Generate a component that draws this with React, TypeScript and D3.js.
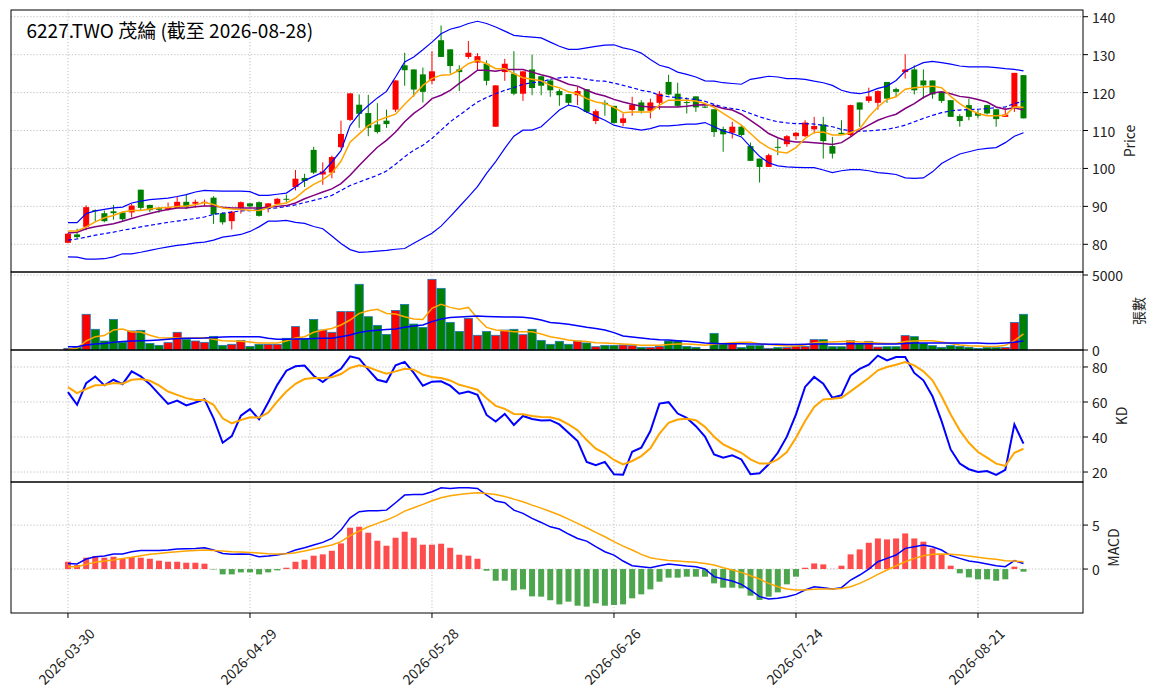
import * as d3 from 'd3';

// ---- values (106 trading days) ----
const tickIndex = [0, 20, 40, 60, 80, 100];
const tickLabels = ['2026-03-30', '2026-04-29', '2026-05-28', '2026-06-26', '2026-07-24', '2026-08-21'];

const opens = [
  80.4, 82.6, 84.6, 89.0, 88.2, 88.7, 88.4, 88.4, 94.4, 90.4,
  89.6, 89.2, 89.6, 91.2, 90.7, 91.0, 92.3, 88.2, 86.1, 89.6,
  90.8, 91.1, 89.6, 90.6, 92.0, 95.1, 97.5, 104.9, 98.4, 98.9,
  105.6, 112.8, 116.8, 114.6, 111.6, 112.6, 115.5, 127.2, 126.1, 124.8,
  123.1, 133.8, 131.4, 126.1, 129.4, 127.9, 127.6, 111.0, 125.4, 125.0,
  119.7, 126.1, 124.3, 123.2, 120.4, 119.6, 119.3, 120.9, 112.5, 117.3,
  116.5, 112.0, 115.4, 117.4, 115.2, 117.3, 122.8, 119.7, 117.5, 119.0,
  116.3, 115.6, 110.4, 109.4, 111.0, 105.9, 102.6, 100.4, 105.7, 106.4,
  108.5, 108.5, 110.3, 111.6, 105.9, 109.4, 108.8, 117.4, 117.8, 117.3,
  122.8, 120.9, 125.4, 126.1, 123.2, 123.2, 120.2, 118.0, 113.8, 116.7,
  114.6, 116.7, 115.6, 113.6, 116.2, 124.6,
];
const highs = [
  83.0, 84.1, 90.3, 89.2, 88.9, 90.4, 88.7, 90.7, 94.4, 90.4,
  89.8, 91.0, 92.7, 93.1, 91.8, 91.8, 92.7, 88.4, 88.8, 91.3,
  90.8, 91.3, 90.8, 92.2, 93.1, 99.6, 98.6, 105.7, 101.6, 103.4,
  112.6, 119.8, 119.5, 119.4, 117.2, 115.5, 123.2, 130.5, 126.1, 126.6,
  130.9, 137.7, 131.4, 127.2, 133.6, 130.4, 128.5, 121.9, 128.9, 130.9,
  125.6, 130.0, 124.3, 123.7, 120.9, 119.6, 121.5, 120.9, 115.6, 118.0,
  116.5, 114.5, 118.9, 118.0, 118.4, 120.4, 124.7, 122.6, 118.7, 119.0,
  116.5, 115.6, 111.0, 112.3, 111.4, 106.8, 102.6, 103.9, 107.9, 108.8,
  109.6, 112.7, 113.6, 113.6, 108.3, 112.7, 116.8, 117.4, 121.3, 120.6,
  122.8, 121.3, 130.1, 127.2, 126.1, 123.2, 120.2, 118.0, 114.3, 118.4,
  115.4, 116.8, 115.6, 116.0, 125.2, 124.6,
];
const lows = [
  80.3, 81.4, 83.7, 85.9, 85.8, 86.5, 86.2, 87.1, 89.0, 88.5,
  88.3, 88.9, 89.5, 89.3, 89.7, 90.0, 85.4, 85.2, 83.9, 88.1,
  89.6, 87.3, 88.4, 90.4, 91.2, 94.2, 95.1, 98.5, 95.7, 97.4,
  105.2, 112.5, 110.7, 108.5, 109.2, 110.7, 114.9, 121.8, 118.9, 117.4,
  122.2, 129.4, 125.0, 120.4, 128.9, 125.9, 121.9, 111.0, 123.1, 119.3,
  117.8, 119.3, 119.3, 118.9, 116.5, 116.7, 116.7, 114.6, 111.7, 113.9,
  111.8, 111.1, 113.9, 114.5, 113.2, 115.5, 119.3, 116.2, 114.5, 114.9,
  115.9, 108.3, 104.4, 107.9, 108.5, 102.0, 96.3, 100.4, 103.5, 105.7,
  107.5, 108.3, 109.2, 102.6, 102.6, 109.0, 108.5, 111.0, 117.3, 115.5,
  117.3, 118.9, 123.7, 119.5, 118.4, 118.4, 117.3, 113.6, 111.0, 112.7,
  113.2, 114.2, 111.0, 113.6, 114.9, 113.2,
];
const closes = [
  82.8, 81.9, 89.8, 88.7, 86.1, 88.2, 86.6, 90.2, 89.6, 89.0,
  89.1, 89.8, 91.2, 89.9, 91.2, 91.2, 87.9, 85.8, 88.6, 91.1,
  90.0, 87.5, 90.8, 92.0, 91.8, 97.3, 96.7, 98.9, 99.2, 103.0,
  109.1, 119.8, 114.4, 110.7, 109.6, 111.7, 123.2, 125.9, 120.8, 120.2,
  125.6, 129.4, 127.0, 125.4, 130.5, 129.6, 123.1, 121.9, 127.6, 119.7,
  125.6, 121.2, 121.8, 120.6, 119.3, 117.3, 120.4, 114.9, 115.1, 116.9,
  112.0, 113.2, 116.8, 115.2, 117.4, 119.7, 119.5, 116.5, 117.3, 116.1,
  116.1, 109.6, 109.0, 111.0, 108.8, 102.0, 100.4, 103.5, 105.5, 108.5,
  109.4, 112.1, 111.2, 107.2, 103.9, 109.0, 116.7, 115.5, 119.0, 120.4,
  118.4, 120.2, 126.1, 120.6, 121.9, 119.5, 117.8, 113.6, 112.5, 113.6,
  113.9, 114.5, 113.0, 114.2, 125.2, 113.2,
];

const ma5 = [
  83.5, 83.5, 84.6, 85.9, 87.0, 87.6, 88.5, 88.9, 88.9, 89.3,
  89.6, 89.7, 90.0, 90.1, 90.4, 91.0, 90.5, 89.6, 89.3, 89.2,
  89.0, 88.9, 89.6, 90.5, 90.9, 92.2, 94.2, 95.8, 97.0, 98.8,
  101.9, 106.9, 109.1, 111.3, 112.6, 113.5, 114.3, 116.9, 119.3, 121.9,
  123.7, 124.6, 124.7, 125.9, 127.6, 128.5, 127.6, 126.3, 126.3, 125.0,
  123.9, 123.5, 123.1, 121.9, 121.3, 120.2, 119.7, 118.4, 117.5, 117.1,
  116.1, 114.7, 114.9, 114.9, 114.9, 116.7, 118.0, 118.0, 118.0, 117.8,
  117.1, 116.1, 114.5, 113.0, 111.4, 109.2, 107.0, 105.5, 104.4, 104.1,
  105.5, 107.9, 109.5, 109.6, 108.8, 108.8, 109.4, 110.5, 113.6, 116.2,
  118.2, 118.9, 120.9, 121.3, 121.5, 121.7, 121.3, 119.0, 117.1, 115.6,
  114.5, 113.9, 113.9, 114.0, 116.2, 116.1,
];
const ma10 = [
  83.0, 83.2, 84.1, 84.6, 85.0, 85.4, 86.1, 86.8, 87.5, 88.1,
  88.7, 89.2, 89.6, 89.6, 89.9, 90.1, 90.1, 89.8, 89.6, 89.6,
  89.6, 89.6, 89.8, 90.0, 90.2, 90.9, 92.0, 92.9, 93.8, 94.6,
  96.0, 98.2, 100.8, 103.2, 105.6, 107.4, 109.6, 112.3, 114.5, 116.2,
  118.4, 119.3, 120.6, 122.4, 124.1, 125.9, 125.9, 125.6, 126.1, 126.1,
  126.1, 125.4, 124.7, 124.1, 123.2, 122.2, 121.7, 120.6, 119.7, 119.1,
  118.2, 117.5, 116.9, 116.4, 116.2, 116.2, 116.2, 116.2, 116.4, 116.7,
  116.8, 116.5, 115.8, 115.4, 114.3, 112.7, 111.0, 109.2, 108.1, 107.3,
  107.0, 107.0, 106.8, 106.6, 106.3, 106.8, 108.3, 110.1, 111.4, 112.7,
  113.6, 114.3, 115.8, 117.1, 118.7, 119.9, 120.2, 119.7, 119.0, 118.7,
  118.2, 117.5, 116.2, 115.6, 116.0, 115.4,
];
const ma20 = [
  81.1, 81.4, 81.9, 82.4, 82.8, 83.2, 83.7, 84.1, 84.6, 85.0,
  85.4, 85.8, 86.1, 86.5, 86.8, 87.2, 87.9, 88.2, 88.5, 88.8,
  88.9, 89.2, 89.4, 89.6, 90.0, 90.4, 91.0, 91.6, 92.2, 92.9,
  94.2, 95.5, 96.4, 97.3, 98.2, 99.3, 101.1, 103.1, 104.8, 106.1,
  107.9, 110.1, 112.3, 114.0, 115.8, 117.5, 118.7, 119.7, 120.6, 121.3,
  122.2, 122.6, 122.8, 123.5, 123.9, 124.1, 123.9, 123.5, 123.1, 123.0,
  122.5, 121.9, 121.3, 120.6, 120.2, 119.3, 118.9, 118.7, 118.4, 118.2,
  117.7, 116.9, 116.2, 115.8, 115.4, 114.5, 113.6, 112.9, 112.3, 112.0,
  111.8, 111.8, 111.7, 111.4, 111.0, 110.3, 109.9, 109.8, 109.9, 110.1,
  110.3, 110.8, 111.4, 112.3, 113.2, 114.0, 114.7, 115.2, 115.4, 115.5,
  115.6, 115.8, 116.0, 116.2, 117.1, 117.7,
];
const bbUpper = [
  85.7, 85.7, 88.1, 88.8, 89.2, 89.6, 89.8, 90.9, 91.4, 91.8,
  92.0, 92.2, 92.6, 93.1, 93.8, 94.2, 94.1, 94.0, 94.0, 94.0,
  93.9, 92.9, 92.9, 93.2, 93.5, 95.1, 96.8, 97.9, 99.0, 101.7,
  104.7, 111.3, 114.4, 116.6, 118.6, 120.3, 124.1, 128.1, 129.4, 131.3,
  133.3, 135.5, 136.7, 137.3, 138.2, 138.8, 138.2, 137.3, 136.2, 135.1,
  134.8, 134.6, 134.4, 133.3, 132.2, 131.4, 131.4, 131.8, 132.2, 132.5,
  132.6, 131.8, 131.3, 130.4, 128.7, 127.2, 126.6, 125.4, 124.8, 124.1,
  123.1, 123.0, 122.6, 122.4, 122.2, 123.5, 123.9, 124.3, 124.1, 123.7,
  123.7, 123.5, 123.0, 122.6, 121.9, 120.6, 120.0, 119.7, 120.2, 121.1,
  121.7, 123.2, 125.6, 126.8, 127.9, 128.2, 127.9, 127.5, 127.0, 126.8,
  126.8, 126.8, 126.6, 126.3, 126.1, 125.7,
];
const bbLower = [
  76.7, 76.6, 76.1, 76.1, 76.2, 76.7, 77.5, 77.5, 77.9, 78.4,
  78.9, 79.3, 79.7, 80.0, 80.4, 80.6, 81.1, 81.9, 82.2, 82.6,
  83.4, 84.6, 86.1, 86.1, 86.3, 85.8, 85.5, 84.7, 84.1, 82.2,
  80.2, 78.6, 77.9, 78.0, 78.2, 78.4, 78.7, 78.9, 80.3, 81.6,
  82.9, 84.8, 87.3, 89.9, 92.5, 95.2, 98.7, 101.8, 105.3, 108.5,
  110.1, 110.1, 111.0, 113.2, 115.4, 116.7, 116.2, 114.9, 113.8, 112.7,
  111.4, 110.8, 110.5, 110.1, 110.5, 111.2, 111.2, 111.4, 111.7, 111.7,
  112.1, 111.0, 109.9, 109.2, 108.3, 105.7, 103.2, 101.5, 100.7, 100.4,
  100.3, 100.2, 100.2, 99.6, 98.9, 99.4, 99.7, 99.7, 99.4, 98.9,
  98.7, 98.4, 97.5, 97.4, 97.5, 99.1, 101.3, 102.6, 103.8, 104.4,
  105.0, 105.3, 105.5, 106.8, 108.5, 109.4,
];

const volumes = [
  110, 180, 2380, 1380, 600, 2040, 510, 1270, 1310, 440,
  310, 490, 1180, 710, 600, 510, 910, 310, 380, 640,
  240, 380, 380, 380, 780, 1560, 780, 2040, 1330, 1180,
  2560, 2560, 4380, 2220, 1640, 1040, 2640, 3040, 1730, 1510,
  4710, 4110, 1840, 1240, 2110, 980, 1240, 980, 1330, 1380,
  1020, 1380, 640, 380, 580, 380, 600, 470, 220, 310,
  310, 330, 290, 180, 180, 240, 600, 600, 240, 180,
  40, 1110, 400, 440, 160, 290, 290, 110, 160, 160,
  240, 240, 690, 690, 220, 220, 620, 400, 580, 200,
  220, 220, 960, 890, 440, 290, 180, 290, 240, 180,
  110, 160, 160, 160, 1840, 2380,
];
const volMa5 = [
  40, 110, 600, 890, 960, 1330, 1400, 1200, 1200, 980,
  820, 800, 820, 780, 800, 820, 710, 620, 600, 580,
  530, 470, 470, 470, 600, 800, 890, 1180, 1330, 1440,
  1670, 2000, 2440, 2620, 2710, 2440, 2400, 2220, 2070, 2040,
  2780, 3040, 2840, 2710, 2840, 2110, 1510, 1330, 1290, 1220,
  1220, 1220, 1070, 890, 780, 670, 600, 560, 490, 470,
  440, 400, 360, 310, 310, 310, 360, 400, 400, 360,
  310, 380, 440, 490, 510, 510, 400, 360, 310, 270,
  270, 330, 490, 530, 530, 560, 580, 530, 510, 470,
  440, 440, 560, 600, 620, 620, 530, 440, 330, 290,
  270, 240, 240, 310, 620, 1070,
];
const volMa20 = [
  220, 220, 330, 400, 440, 510, 560, 600, 620, 640,
  670, 710, 760, 780, 780, 800, 840, 870, 890, 890,
  890, 890, 780, 710, 710, 730, 730, 760, 780, 780,
  890, 1000, 1160, 1270, 1310, 1360, 1400, 1510, 1600, 1670,
  1890, 2070, 2160, 2200, 2240, 2270, 2240, 2220, 2200, 2200,
  2180, 2110, 2000, 1840, 1780, 1710, 1620, 1510, 1440, 1330,
  1160, 930, 870, 800, 730, 690, 670, 620, 580, 530,
  470, 440, 420, 420, 420, 400, 400, 380, 380, 360,
  360, 380, 400, 400, 400, 400, 420, 420, 420, 400,
  400, 400, 440, 470, 470, 470, 470, 470, 470, 470,
  470, 440, 440, 470, 510, 600,
];

const kLine = [
  65.6, 58.4, 70.8, 74.6, 69.5, 72.7, 70.2, 77.5, 74.6, 70.2,
  64.5, 58.9, 60.8, 58.0, 59.7, 61.6, 50.7, 36.7, 40.5, 52.2,
  55.9, 50.1, 59.7, 69.8, 77.9, 80.4, 80.8, 75.0, 71.4, 75.6,
  79.0, 86.1, 84.8, 78.5, 72.7, 71.4, 81.0, 82.9, 76.6, 69.3,
  71.6, 71.8, 69.3, 64.7, 66.0, 64.1, 52.6, 48.8, 53.2, 46.9,
  52.0, 50.3, 49.5, 49.6, 47.2, 42.4, 37.7, 25.8, 23.9, 25.8,
  18.7, 18.4, 31.6, 33.9, 43.4, 59.1, 59.9, 53.4, 50.9, 46.2,
  40.2, 30.1, 28.2, 29.5, 27.2, 18.7, 19.3, 24.4, 31.0, 40.2,
  52.9, 68.6, 74.3, 70.5, 62.4, 63.9, 75.1, 78.9, 81.3, 86.5,
  83.8, 85.7, 85.7, 76.6, 72.4, 63.3, 49.1, 32.9, 24.8, 21.6,
  20.0, 20.6, 18.3, 21.2, 47.2, 36.2,
];
const dLine = [
  68.5, 65.1, 67.4, 69.5, 69.7, 70.8, 70.4, 72.7, 73.1, 72.1,
  69.5, 66.0, 64.1, 62.2, 61.2, 61.2, 58.4, 50.7, 47.8, 49.7,
  51.3, 51.1, 53.9, 60.3, 66.0, 70.4, 73.1, 73.7, 73.7, 74.1,
  76.0, 79.4, 81.0, 79.8, 77.9, 76.2, 77.5, 79.0, 78.5, 75.6,
  74.3, 73.7, 72.3, 69.8, 68.5, 67.0, 62.2, 57.8, 56.1, 53.2,
  53.0, 52.0, 51.4, 51.3, 50.0, 47.2, 43.9, 38.3, 33.3, 30.7,
  26.9, 24.4, 26.3, 29.1, 33.5, 41.9, 48.1, 50.0, 50.4, 49.6,
  45.8, 40.2, 35.8, 33.3, 31.0, 27.2, 24.8, 24.8, 27.2, 31.4,
  39.6, 49.1, 57.2, 61.4, 61.8, 62.4, 66.1, 69.9, 73.7, 78.1,
  80.0, 81.3, 82.8, 80.9, 77.5, 72.4, 63.3, 52.9, 43.8, 36.7,
  31.4, 28.2, 24.8, 23.5, 31.0, 33.3,
];

const macdHist = [
  0.83, 0.45, 1.29, 1.48, 1.29, 1.40, 1.14, 1.36, 1.29, 1.17,
  0.95, 0.83, 0.83, 0.72, 0.72, 0.61, -0.05, -0.61, -0.61, -0.38,
  -0.38, -0.61, -0.38, -0.15, 0.15, 0.83, 1.06, 1.52, 1.67, 2.08,
  2.92, 4.70, 4.81, 4.13, 3.22, 2.65, 3.56, 4.24, 3.56, 2.77,
  2.77, 2.88, 2.42, 1.63, 1.52, 1.17, -0.19, -1.33, -1.33, -2.42,
  -2.31, -3.11, -3.14, -3.55, -4.02, -3.71, -4.17, -4.28, -3.90, -4.17,
  -4.09, -4.02, -3.33, -2.88, -2.31, -1.44, -0.98, -0.98, -0.87, -0.87,
  -0.87, -1.63, -2.12, -2.12, -2.20, -3.03, -3.52, -3.14, -2.65, -1.74,
  -0.87, 0.15, 0.64, 0.53, 0.02, 0.38, 1.67, 2.23, 2.99, 3.48,
  3.37, 3.48, 4.05, 3.48, 3.11, 2.35, 1.67, 0.38, -0.49, -0.95,
  -1.17, -1.17, -1.33, -1.17, 0.27, -0.30,
];
const dif = [
  0.64, 0.57, 1.14, 1.40, 1.48, 1.70, 1.70, 1.97, 2.12, 2.12,
  2.12, 2.16, 2.27, 2.31, 2.35, 2.42, 2.16, 1.78, 1.67, 1.70,
  1.67, 1.40, 1.48, 1.59, 1.78, 2.16, 2.42, 2.73, 3.03, 3.48,
  4.43, 5.83, 6.52, 6.63, 6.63, 6.70, 7.54, 8.41, 8.48, 8.48,
  8.79, 9.24, 9.17, 9.24, 9.24, 9.17, 8.41, 7.73, 7.54, 6.70,
  6.33, 5.76, 5.30, 4.80, 4.55, 3.98, 3.48, 3.18, 2.54, 1.97,
  1.59, 0.91, 0.38, 0.27, 0.15, 0.38, 0.57, 0.45, 0.34, 0.27,
  0.00, -0.87, -1.14, -1.36, -1.74, -2.39, -3.14, -3.41, -3.33, -3.14,
  -2.88, -2.39, -2.01, -2.12, -2.27, -2.12, -1.25, -0.68, 0.00, 0.83,
  1.21, 1.59, 2.35, 2.54, 2.73, 2.54, 2.16, 1.52, 1.21, 0.91,
  0.76, 0.57, 0.38, 0.27, 0.95, 0.64,
];
const dea = [
  0.27, 0.27, 0.53, 0.76, 0.91, 1.02, 1.21, 1.33, 1.52, 1.67,
  1.78, 1.89, 1.97, 2.05, 2.12, 2.16, 2.12, 2.05, 1.97, 1.93,
  1.89, 1.82, 1.74, 1.70, 1.74, 1.86, 2.05, 2.27, 2.50, 2.73,
  3.11, 3.79, 4.32, 4.81, 5.19, 5.57, 6.02, 6.59, 6.97, 7.35,
  7.77, 8.11, 8.33, 8.48, 8.60, 8.67, 8.60, 8.48, 8.26, 7.95,
  7.65, 7.27, 6.93, 6.55, 6.14, 5.68, 5.19, 4.70, 4.17, 3.67,
  3.11, 2.61, 2.16, 1.67, 1.29, 1.10, 0.98, 0.91, 0.83, 0.76,
  0.64, 0.45, 0.15, -0.11, -0.38, -0.76, -1.14, -1.63, -2.01, -2.27,
  -2.39, -2.39, -2.31, -2.27, -2.27, -2.20, -2.01, -1.63, -1.14, -0.61,
  -0.11, 0.38, 0.83, 1.21, 1.52, 1.67, 1.70, 1.67, 1.59, 1.48,
  1.33, 1.21, 1.10, 0.95, 0.91, 0.83,
];

const priceTicks = [80, 90, 100, 110, 120, 130, 140];
const volTicks = [0, 5000];
const kdTicks = [20, 40, 60, 80];
const macdTicks = [0, 5];

const W = 1155;
const H = 698;
const LEFT = 11;
const RIGHT = 1083;
const FONT = "'Noto Sans CJK TC', 'Noto Sans', sans-serif";
const UP = 'red';
const DOWN = 'green';
const GRID = '#b0b0b0';

const x = d3.scaleLinear().domain([-6.26, 111.54]).range([LEFT, RIGHT]);
const yPrice = d3.scaleLinear().domain([72.7, 141.77]).range([272, 10]);
const yVol = d3.scaleLinear().domain([0, 5200]).range([350, 272]);
const yKD = d3.scaleLinear().domain([14.3, 89.7]).range([482, 350]);
const yMacd = d3.scaleLinear().domain([-5.0, 9.9]).range([613, 482]);

const pathOf = (y: d3.ScaleLinear<number, number>, vals: number[]) =>
  d3.line<number>().x((_, i) => x(i)).y((d) => y(d))(vals) || '';

const isUp = (i: number) => closes[i] >= opens[i];

function Panel({ y, top, bottom, ticks, label, labelX, fmt }: {
  y: d3.ScaleLinear<number, number>;
  top: number;
  bottom: number;
  ticks: number[];
  label: string;
  labelX: number;
  fmt?: (v: number) => string;
}) {
  return (
    <g>
      {tickIndex.map((t) => (
        <line key={'v' + t} x1={x(t)} x2={x(t)} y1={top} y2={bottom}
          stroke={GRID} strokeWidth={0.8} strokeDasharray="1.2,2" />
      ))}
      {ticks.map((t) => (
        <line key={'h' + t} x1={LEFT} x2={RIGHT} y1={y(t)} y2={y(t)}
          stroke={GRID} strokeWidth={0.8} strokeDasharray="1.2,2" />
      ))}
      {ticks.map((t) => (
        <g key={'t' + t}>
          <line x1={RIGHT} x2={RIGHT + 5} y1={y(t)} y2={y(t)} stroke="#000" strokeWidth={1} />
          <text x={RIGHT + 9} y={y(t)} dominantBaseline="central" fontSize={14}
            fontFamily={FONT} fill="#222">{fmt ? fmt(t) : String(t)}</text>
        </g>
      ))}
      <text transform={`translate(${labelX},${(top + bottom) / 2}) rotate(-90)`}
        textAnchor="middle" dominantBaseline="central" fontSize={14}
        fontFamily={FONT} fill="#222">{label}</text>
    </g>
  );
}

export default function App() {
  const idx = opens.map((_, i) => i);

  return (
    <svg width={W} height={H} style={{ position: 'absolute', left: 0, top: 0, background: '#fff' }}>
      <rect x={0} y={0} width={W} height={H} fill="#fff" />

      {/* price panel */}
      <Panel y={yPrice} top={10} bottom={272} ticks={priceTicks} label="Price" labelX={1129} />
      {idx.map((i) => {
        const c = isUp(i) ? UP : DOWN;
        const yTop = yPrice(Math.max(opens[i], closes[i]));
        const yBot = yPrice(Math.min(opens[i], closes[i]));
        return (
          <g key={'c' + i}>
            <line x1={x(i)} x2={x(i)} y1={yPrice(highs[i])} y2={yPrice(lows[i])} stroke={c} strokeWidth={1} />
            <rect x={x(i) - 3} y={yTop} width={6} height={Math.max(1, yBot - yTop)} fill={c} />
          </g>
        );
      })}
      <path d={pathOf(yPrice, bbUpper)} fill="none" stroke="blue" strokeWidth={1.2} />
      <path d={pathOf(yPrice, bbLower)} fill="none" stroke="blue" strokeWidth={1.2} />
      <path d={pathOf(yPrice, ma20)} fill="none" stroke="blue" strokeWidth={1.2} strokeDasharray="4,2.5" />
      <path d={pathOf(yPrice, ma10)} fill="none" stroke="purple" strokeWidth={1.5} />
      <path d={pathOf(yPrice, ma5)} fill="none" stroke="orange" strokeWidth={1.5} />
      <text x={26.5} y={37.5} fontSize={19} fontFamily={FONT} fill="#000">6227.TWO 茂綸 (截至 2026-08-28)</text>

      {/* volume panel */}
      <Panel y={yVol} top={272} bottom={350} ticks={volTicks} label="張數" labelX={1138} />
      {idx.map((i) => (
        <rect key={'v' + i} x={x(i) - 4.1} y={yVol(volumes[i])} width={8.2}
          height={yVol(0) - yVol(volumes[i])} fill={isUp(i) ? UP : DOWN}
          stroke="#1f77b4" strokeWidth={0.8} />
      ))}
      <path d={pathOf(yVol, volMa5)} fill="none" stroke="orange" strokeWidth={1.5} />
      <path d={pathOf(yVol, volMa20)} fill="none" stroke="blue" strokeWidth={1.5} />

      {/* KD panel */}
      <Panel y={yKD} top={350} bottom={482} ticks={kdTicks} label="KD" labelX={1121} />
      <path d={pathOf(yKD, kLine)} fill="none" stroke="blue" strokeWidth={2} />
      <path d={pathOf(yKD, dLine)} fill="none" stroke="orange" strokeWidth={2} />

      {/* MACD panel */}
      <Panel y={yMacd} top={482} bottom={613} ticks={macdTicks} label="MACD" labelX={1113} />
      {idx.map((i) => {
        const v = macdHist[i];
        const y0 = yMacd(0);
        const y1 = yMacd(v);
        return (
          <rect key={'h' + i} x={x(i) - 3} y={Math.min(y0, y1)} width={6}
            height={Math.abs(y1 - y0)} fill={v >= 0 ? '#ff4d4d' : '#4da64d'} />
        );
      })}
      <path d={pathOf(yMacd, dif)} fill="none" stroke="blue" strokeWidth={1.5} />
      <path d={pathOf(yMacd, dea)} fill="none" stroke="orange" strokeWidth={1.5} />

      {/* frames */}
      {[[10, 272], [272, 350], [350, 482], [482, 613]].map(([t, b]) => (
        <rect key={'f' + t} x={LEFT} y={t} width={RIGHT - LEFT} height={b - t}
          fill="none" stroke="#000" strokeWidth={1} />
      ))}

      {/* date axis */}
      {tickIndex.map((t, k) => (
        <g key={'d' + t}>
          <line x1={x(t)} x2={x(t)} y1={613} y2={618} stroke="#000" strokeWidth={1} />
          <text transform={`translate(${x(t) - 2},656) rotate(-45)`} textAnchor="middle"
            dominantBaseline="central" fontSize={14} fontFamily={FONT} fill="#222">
            {tickLabels[k]}
          </text>
        </g>
      ))}
    </svg>
  );
}
